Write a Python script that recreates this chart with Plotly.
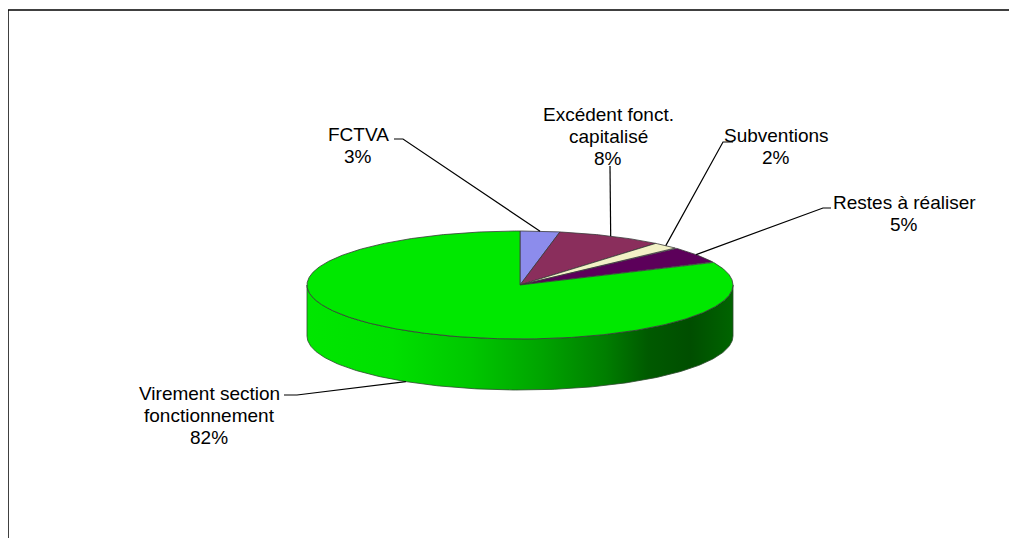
import numpy as np
import plotly.graph_objects as go

# ---------------- data ----------------
categories = ["FCTVA", "Excédent fonct. capitalisé", "Subventions",
              "Restes à réaliser", "Virement section fonctionnement"]
label_lines = [["FCTVA"], ["Excédent fonct.", "capitalisé"], ["Subventions"],
               ["Restes à réaliser"], ["Virement section", "fonctionnement"]]
values = [3, 8, 2, 5, 82]

# ---------------- style / layout ----------------
slice_colors = ["#8C8CEC", "#8A2E5C", "#F2F2C6", "#5C005A", "#00E800"]
W, H = 1017, 538
OFF = 8  # page body margin; axis ranges are expressed in page pixels
CX, CY, A, B, DEPTH = 520, 285, 213, 54, 51
FONT = dict(family="Liberation Sans, Arial, sans-serif", size=19, color="black")
PITCH = 22

# label block centres and leader starting points (layout positions)
label_xy = [(358, 145), (608, 136), (776, 146), (904, 213), (209, 415)]
leader_start = [[(394, 139), (403, 139)],
                [(610, 166)],
                [(733, 142), (723, 142)],
                [(831, 208), (823, 208)],
                [(284, 395), (297, 395)]]


def ell(theta_deg, drop=0.0):
    t = np.radians(theta_deg)
    return CX + A * np.sin(t), CY - B * np.cos(t) + drop


fig = go.Figure()

# ---- side of the 3D pie (front half) ----
th = np.linspace(90, 270, 240)
xt, yt = ell(th)
side_x = np.concatenate([xt, xt[::-1], xt[:1]])
side_y = np.concatenate([yt, (yt + DEPTH)[::-1], yt[:1]])
fig.add_trace(go.Scatter(
    x=side_x, y=side_y, mode="lines", fill="toself",
    fillgradient=dict(type="horizontal", colorscale=[
        [0.0, "#00E600"], [0.2, "#00E000"], [0.38, "#00C800"],
        [0.55, "#00A400"], [0.7, "#007E00"], [0.8, "#005A00"],
        [0.9, "#004E00"], [1.0, "#006400"]]),
    line=dict(color="#2E4A2E", width=0.8), hoverinfo="skip", showlegend=False))

# ---- top slices ----
total = float(sum(values))
cum = np.concatenate([[0], np.cumsum(values)]) / total * 360.0
for i, v in enumerate(values):
    a0, a1 = cum[i], cum[i + 1]
    ts = np.linspace(a0, a1, max(8, int((a1 - a0) * 2)))
    xs, ys = ell(ts)
    px = np.concatenate([[CX], xs, [CX]])
    py = np.concatenate([[CY], ys, [CY]])
    fig.add_trace(go.Scatter(
        x=px, y=py, mode="lines", fill="toself", fillcolor=slice_colors[i],
        line=dict(color="#3A3A3A", width=0.8), hoverinfo="skip",
        showlegend=False, name=categories[i]))

# ---- leader lines & labels ----
for i, v in enumerate(values):
    mid = (cum[i] + cum[i + 1]) / 2
    front = 90 < mid < 270
    ax_, ay_ = ell(mid, DEPTH if front else 0)
    pts = leader_start[i] + [(ax_, ay_)]
    fig.add_trace(go.Scatter(
        x=[p[0] for p in pts], y=[p[1] for p in pts], mode="lines",
        line=dict(color="black", width=1.2), hoverinfo="skip", showlegend=False))
    pct = f"{round(v / total * 100)}%"
    lines = label_lines[i] + [pct]
    n = len(lines)
    for k, ln in enumerate(lines):
        fig.add_annotation(x=label_xy[i][0],
                           y=label_xy[i][1] + (k - (n - 1) / 2) * PITCH,
                           text=ln, showarrow=False, xanchor="center",
                           yanchor="middle", font=FONT)

# ---- chart-area border (top and left visible) ----
fig.add_shape(type="line", x0=8, x1=W + 2, y0=10, y1=10,
              line=dict(color="black", width=1.5), xref="x", yref="y")
fig.add_shape(type="line", x0=8, x1=8, y0=10, y1=H + 2,
              line=dict(color="black", width=1.5), xref="x", yref="y")

fig.update_layout(
    width=W - OFF, height=H - OFF, margin=dict(l=0, r=0, t=0, b=0),
    paper_bgcolor="white", plot_bgcolor="white", showlegend=False,
    xaxis=dict(range=[OFF, W], visible=False, fixedrange=True),
    yaxis=dict(range=[H, OFF], visible=False, fixedrange=True),
)

fig.write_html("out.html")
